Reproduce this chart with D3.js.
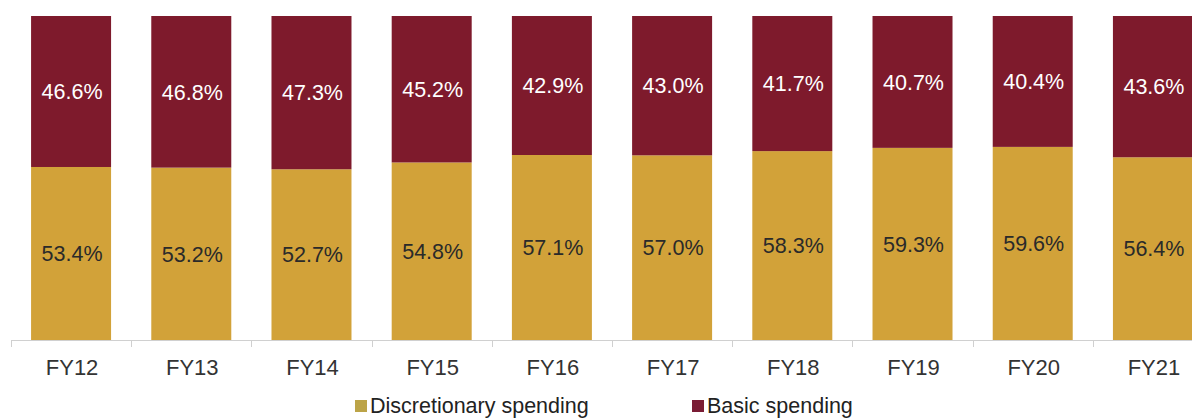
<!DOCTYPE html>
<html>
<head>
<meta charset="utf-8">
<script src="https://cdn.jsdelivr.net/npm/d3@7"></script>
<style>
  body { margin: 0; background: #fff; }
  svg { display: block; font-family: "Liberation Sans", Arial, sans-serif; }
</style>
</head>
<body>
<div id="chart"></div>
<script>
var years = ["FY12", "FY13", "FY14", "FY15", "FY16", "FY17", "FY18", "FY19", "FY20", "FY21"];
var discretionary = [53.4, 53.2, 52.7, 54.8, 57.1, 57.0, 58.3, 59.3, 59.6, 56.4];
var basic = [46.6, 46.8, 47.3, 45.2, 42.9, 43.0, 41.7, 40.7, 40.4, 43.6];
var seriesNames = ["Discretionary spending", "Basic spending"];

var width = 1192, height = 418;
var margin = {top: 16, left: 11, bottom: 78};
var colors = {"Discretionary spending": "#d2a239", "Basic spending": "#7e1a2c"};
var legendColors = {"Discretionary spending": "#bca448", "Basic spending": "#7a1c35"};

var rows = years.map(function (y, i) {
  return {year: y, "Discretionary spending": discretionary[i], "Basic spending": basic[i]};
});

var svg = d3.select("#chart")
  .append("svg")
    .attr("width", width)
    .attr("height", height);

// bands run past the right edge, like the cropped original
var x = d3.scaleBand()
  .domain(years)
  .range([margin.left, margin.left + 10 * 120.2])
  .paddingInner(0.3345)
  .paddingOuter(0.167);

var y = d3.scaleLinear()
  .domain([0, 100])
  .range([height - margin.bottom, margin.top]);

var stack = d3.stack().keys(seriesNames);
var layers = stack(rows);

var g = svg.append("g");

layers.forEach(function (layer) {
  var key = layer.key;
  g.selectAll(null)
    .data(layer)
    .enter()
    .append("rect")
      .attr("x", function (d) { return x(d.data.year); })
      .attr("y", function (d) { return y(d[1]); })
      .attr("width", x.bandwidth())
      .attr("height", function (d) { return y(d[0]) - y(d[1]); })
      .style("fill", colors[key]);

  g.selectAll(null)
    .data(layer)
    .enter()
    .append("text")
      .attr("x", function (d) { return x(d.data.year) + x.bandwidth() / 2 + 1; })
      .attr("y", function (d) { return (y(d[0]) + y(d[1])) / 2; })
      .attr("dy", "0.36em")
      .attr("text-anchor", "middle")
      .style("font-size", "21.5px")
      .style("fill", key === "Basic spending" ? "#ffffff" : "#2a2a2a")
      .text(function (d) { return d.data[key].toFixed(1) + "%"; });
});

// x axis with ticks between bars
var base = y(0);
svg.append("line")
  .attr("x1", margin.left).attr("x2", width)
  .attr("y1", base + 0.5).attr("y2", base + 0.5)
  .style("stroke", "#d0d0d0");

svg.selectAll(".tick-sep")
  .data(years)
  .enter()
  .append("line")
    .attr("class", "tick-sep")
    .attr("x1", function (d) { return Math.round(x(d) - x.step() * x.paddingInner() / 2) + 0.5; })
    .attr("x2", function (d) { return Math.round(x(d) - x.step() * x.paddingInner() / 2) + 0.5; })
    .attr("y1", base).attr("y2", base + 7)
    .style("stroke", "#d0d0d0");

svg.selectAll(".cat")
  .data(years)
  .enter()
  .append("text")
    .attr("class", "cat")
    .attr("x", function (d) { return x(d) + x.bandwidth() / 2 + 1; })
    .attr("y", base + 35)
    .attr("text-anchor", "middle")
    .style("font-size", "22px")
    .style("fill", "#333")
    .text(function (d) { return d; });

// Legend
var legendPos = [355, 692];
var legend = svg.selectAll(".legend")
  .data(seriesNames)
  .enter()
  .append("g")
    .attr("class", "legend")
    .attr("transform", function (d, i) { return "translate(" + legendPos[i] + ",400)"; });

legend.append("rect")
  .attr("width", 12).attr("height", 12)
  .style("fill", function (d) { return legendColors[d]; });

legend.append("text")
  .attr("x", 15)
  .attr("y", 13)
  .style("font-size", "21.5px")
  .style("fill", "#222")
  .text(function (d) { return d; });
</script>
</body>
</html>
